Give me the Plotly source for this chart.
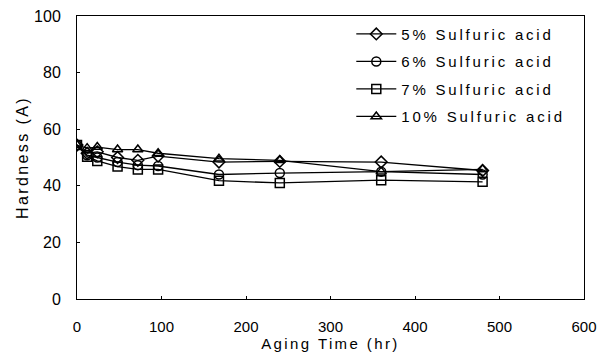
import plotly.graph_objects as go

hours = [0, 12, 24, 48, 72, 96, 168, 240, 360, 480]
acid_5 = [54.4, 51.5, 52.0, 50.0, 49.0, 50.5, 48.4, 48.6, 48.4, 45.4]
acid_6 = [54.4, 50.8, 50.0, 48.4, 47.3, 47.0, 44.0, 44.5, 45.0, 44.0]
acid_7 = [54.4, 50.3, 48.8, 46.8, 45.8, 45.8, 41.8, 41.0, 42.0, 41.4]
acid_10 = [54.4, 53.3, 53.7, 52.8, 52.8, 51.5, 49.6, 49.0, 45.0, 45.8]

series_names = ["5% Sulfuric acid", "6% Sulfuric acid", "7% Sulfuric acid", "10% Sulfuric acid"]
series_values = [acid_5, acid_6, acid_7, acid_10]
symbols = ["diamond-open", "circle-open", "square-open", "triangle-up-open"]

x_ticks = [0, 100, 200, 300, 400, 500, 600]
y_ticks = [0, 20, 40, 60, 80, 100]

FONT = "Liberation Sans, Arial, sans-serif"

fig = go.Figure()
for i, (name, vals, sym) in enumerate(zip(series_names, series_values, symbols)):
    fig.add_trace(go.Scatter(
        x=hours, y=vals, mode="lines+markers",
        name='<span style="letter-spacing:2.8px">' + name + '</span>',
        legendgroup="g%d" % i,
        line=dict(color="black", width=1.3),
        marker=dict(symbol=sym, size=9, color="black", line=dict(width=1.5, color="black")),
    ))

fig.update_layout(
    width=602, height=357,
    margin=dict(l=77, r=18, t=16, b=58, autoexpand=False),
    paper_bgcolor="white", plot_bgcolor="white",
    font=dict(family=FONT, color="black", size=15),
    showlegend=True,
    legend=dict(x=0.541, y=0.994, xanchor="left", yanchor="top",
                bgcolor="rgba(0,0,0,0)", font=dict(size=15, family=FONT),
                traceorder="grouped", tracegroupgap=5, itemwidth=40),
)
fig.update_xaxes(
    range=[0, 600], tickvals=x_ticks, ticktext=[str(v) for v in x_ticks],
    showgrid=False, zeroline=False, showline=True, linecolor="black", linewidth=1,
    mirror=True, ticks="inside", ticklen=3, tickcolor="black", automargin=False,
    tickfont=dict(size=15), ticklabelstandoff=14,
    title=dict(text='<span style="letter-spacing:2.4px">Aging Time (hr)</span>',
               font=dict(size=15), standoff=2),
)
fig.update_yaxes(
    range=[0, 100], tickvals=y_ticks, ticktext=[str(v) for v in y_ticks],
    showgrid=False, zeroline=False, showline=True, linecolor="black", linewidth=1,
    mirror=True, ticks="inside", ticklen=3, tickcolor="black", automargin=False,
    tickfont=dict(size=16), ticklabelstandoff=12,
    title=dict(text='<span style="letter-spacing:2.4px">Hardness (A)</span>',
               font=dict(size=16), standoff=1),
)

fig.write_html("out.html")
